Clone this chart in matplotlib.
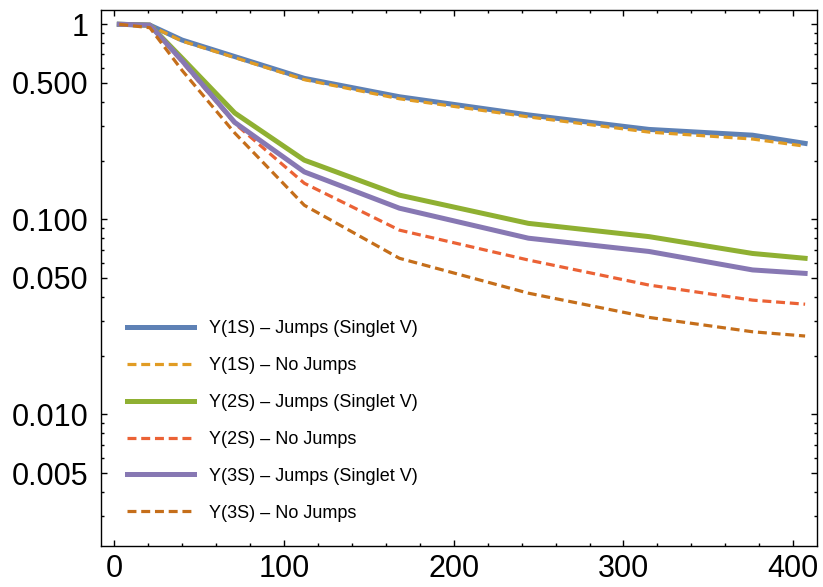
import numpy as np
import matplotlib
matplotlib.use("Agg")
import matplotlib.pyplot as plt
from matplotlib.ticker import FixedLocator, FixedFormatter, MultipleLocator, LogLocator, NullFormatter

plt.rcParams['font.family'] = ['Liberation Sans', 'DejaVu Sans']

# time points
t = [3, 21, 40, 71, 112, 168, 244, 315, 376, 407]

# survival probabilities
y1s_jump = [1.0, 0.99, 0.83, 0.683, 0.528, 0.425, 0.343, 0.289, 0.270, 0.245]
y1s_nojump = [1.0, 0.985, 0.82, 0.675, 0.52, 0.415, 0.335, 0.280, 0.258, 0.237]
y2s_jump = [1.0, 0.99, 0.67, 0.351, 0.201, 0.133, 0.0953, 0.0815, 0.0668, 0.0631]
y2s_nojump = [1.0, 0.985, 0.64, 0.31, 0.153, 0.088, 0.0618, 0.046, 0.0385, 0.0367]
y3s_jump = [1.0, 0.99, 0.65, 0.314, 0.175, 0.114, 0.080, 0.0684, 0.055, 0.0528]
y3s_nojump = [1.0, 0.96, 0.58, 0.277, 0.118, 0.0631, 0.0418, 0.0314, 0.0265, 0.0252]

labels = ["Υ(1S) – Jumps (Singlet V)", "Υ(1S) – No Jumps",
          "Υ(2S) – Jumps (Singlet V)", "Υ(2S) – No Jumps",
          "Υ(3S) – Jumps (Singlet V)", "Υ(3S) – No Jumps"]
colors = ["#5E81B5", "#E19C24", "#8FB032", "#EB6235", "#8778B3", "#C56E1A"]

yticks = [1, 0.5, 0.1, 0.05, 0.01, 0.005]
ytick_labels = ["1", "0.500", "0.100", "0.050", "0.010", "0.005"]
xticks = [0, 100, 200, 300, 400]

fig = plt.figure(figsize=(8.23, 5.87), dpi=100)
ax = fig.add_axes([0.1227, 0.0704, 0.87, 0.9126])

series = [y1s_jump, y1s_nojump, y2s_jump, y2s_nojump, y3s_jump, y3s_nojump]
for i, s in enumerate(series):
    if i % 2 == 0:
        ax.plot(t, s, color=colors[i], lw=3.6, label=labels[i], solid_joinstyle='round')
    else:
        ax.plot(t, s, color=colors[i], lw=2.3, dashes=(2.8, 1.5), label=labels[i])

ax.set_yscale('log')
ax.set_xlim(-7.8, 414)
ax.set_ylim(0.00212, 1.184)

ax.xaxis.set_major_locator(FixedLocator(xticks))
ax.xaxis.set_minor_locator(MultipleLocator(20))
ax.yaxis.set_major_locator(FixedLocator(yticks))
ax.yaxis.set_major_formatter(FixedFormatter(ytick_labels))
ax.yaxis.set_minor_locator(LogLocator(base=10, subs=np.arange(1, 10)))
ax.yaxis.set_minor_formatter(NullFormatter())

ax.tick_params(which='both', direction='in', top=True, right=True, width=1)
ax.tick_params(which='major', length=4.5, labelsize=22)
ax.tick_params(axis='x', which='major', pad=6)
ax.tick_params(axis='y', which='major', pad=9)
ax.tick_params(which='minor', length=2.3)
for sp in ax.spines.values():
    sp.set_linewidth(1.0)

ax.legend(loc='lower left', bbox_to_anchor=(0.037, 0.045), frameon=False,
          fontsize=13, handlelength=3.7, handletextpad=0.8, labelspacing=1.1,
          borderpad=0, borderaxespad=0)

fig.savefig("out.png", dpi=100)
